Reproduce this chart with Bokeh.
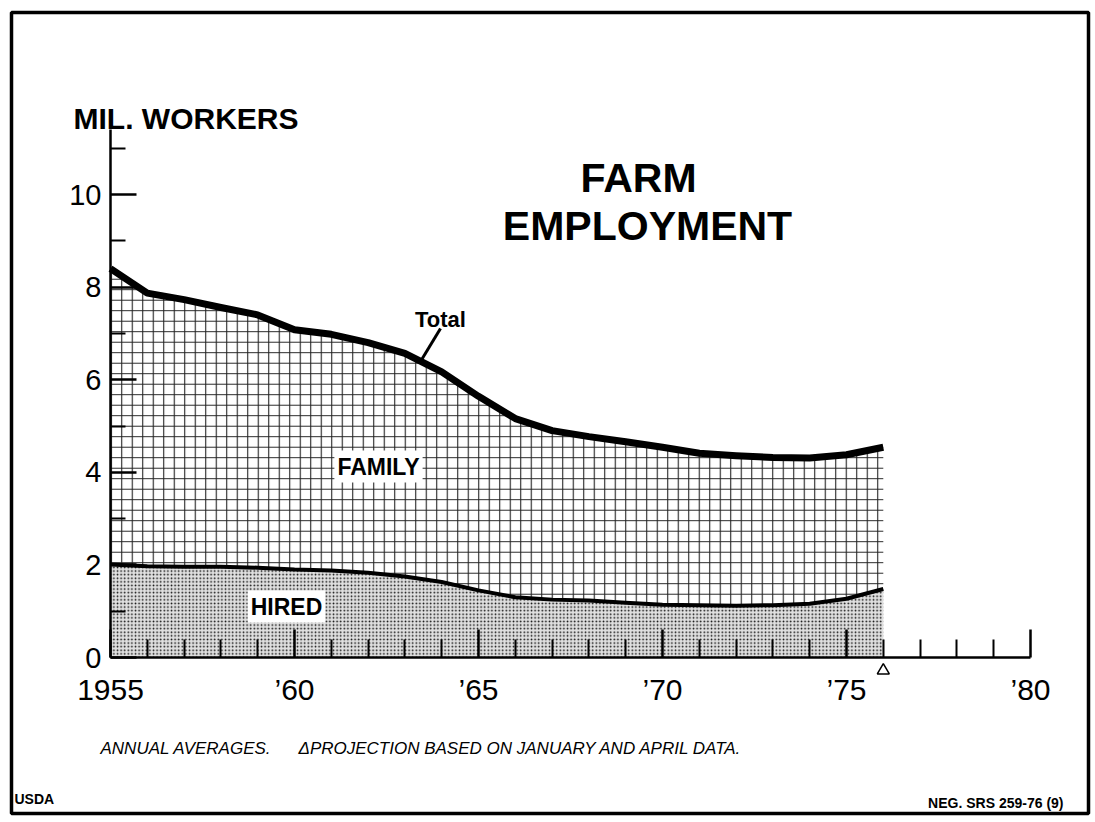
from bokeh.plotting import figure
from bokeh.models import Range1d, FixedTicker, Label, BoxAnnotation
from bokeh.embed import file_html
from bokeh.resources import INLINE

# ---------------- data ----------------
years = list(range(1955, 1977))
total = [8.40, 7.87, 7.73, 7.56, 7.40, 7.08, 6.98, 6.80, 6.57, 6.17, 5.64,
         5.16, 4.90, 4.77, 4.66, 4.54, 4.41, 4.36, 4.32, 4.31, 4.38, 4.54]
hired = [2.01, 1.97, 1.96, 1.96, 1.94, 1.90, 1.88, 1.83, 1.75, 1.63, 1.45,
         1.30, 1.25, 1.23, 1.18, 1.14, 1.13, 1.12, 1.13, 1.16, 1.27, 1.48]
x_major = [1955, 1960, 1965, 1970, 1975, 1980]
x_labels = ["1955", "\u201960", "\u201965", "\u201970", "\u201975", "\u201980"]
x_minor = [1956, 1957, 1958, 1959, 1961, 1962, 1963, 1964, 1966, 1967, 1968,
           1969, 1971, 1972, 1973, 1974, 1976, 1977, 1978, 1979]
y_major = [0, 2, 4, 6, 8, 10]
y_minor = [1, 3, 5, 7, 9, 11]
proj_year = [1976]

# ---------------- layout helpers ----------------
W, H = 1095, 822
OX, OY = 0, 0        # page position of the canvas
X0, SX = 110, 36.8   # pixel of 1955, pixels per year
Y0, SY = 657, 46.3   # pixel of 0, pixels per million


def X(px):
    return 1955 + (px - X0) / SX


def Y(py):
    return (Y0 - py) / SY


FONT = "Liberation Sans"

p = figure(width=W, height=H,
           x_range=Range1d(X(OX), X(OX + W)), y_range=Range1d(Y(OY + H), Y(OY)),
           output_backend="svg", toolbar_location=None, min_border=0,
           background_fill_color="white", border_fill_color="white")
p.outline_line_color = None
p.grid.visible = False

# ---------------- areas ----------------
p.varea(x=years, y1=0, y2=hired, fill_color="#e0e0e0",
        hatch_pattern="dot", hatch_scale=3.6, hatch_color="#111111",
        hatch_weight=1.0)
p.varea(x=years, y1=hired, y2=total, fill_color="white",
        hatch_pattern="+", hatch_scale=10.5, hatch_color="#222222",
        hatch_weight=1.1)
p.line(x=years, y=hired, line_color="black", line_width=4, line_join="round")
p.line(x=years, y=total, line_color="black", line_width=7, line_join="round")

# projection marker
p.scatter(x=proj_year, y=[Y(670)] * len(proj_year), marker="triangle",
          size=12, fill_color="white", line_color="black", line_width=1.5)

# ---------------- axes ----------------
xa = p.xaxis[0]
xa.fixed_location = 0
xa.bounds = (1955, 1980)
xa.ticker = FixedTicker(ticks=x_major, minor_ticks=x_minor)
xa.major_label_overrides = dict(zip(x_major, x_labels))
xa.axis_line_width = 2.5
xa.axis_line_color = "black"
xa.major_tick_in = 28
xa.major_tick_out = 0
xa.minor_tick_in = 18
xa.minor_tick_out = 0
xa.major_tick_line_width = 2.5
xa.minor_tick_line_width = 2
xa.major_tick_line_color = "black"
xa.minor_tick_line_color = "black"
xa.major_label_text_font = FONT
xa.major_label_text_font_size = "30px"
xa.major_label_text_color = "black"
xa.major_label_standoff = 15

ya = p.yaxis[0]
ya.fixed_location = 1955
ya.bounds = (0, 11.4)
ya.ticker = FixedTicker(ticks=y_major, minor_ticks=y_minor)
ya.axis_line_width = 2.5
ya.axis_line_color = "black"
ya.major_tick_in = 26
ya.major_tick_out = 0
ya.minor_tick_in = 15
ya.minor_tick_out = 0
ya.major_tick_line_width = 2.5
ya.minor_tick_line_width = 2
ya.major_tick_line_color = "black"
ya.minor_tick_line_color = "black"
ya.major_label_text_font = FONT
ya.major_label_text_font_size = "29px"
ya.major_label_text_color = "black"
ya.major_label_standoff = 9

# ---------------- texts ----------------
def lab(px, py, text, size, style="normal", align="left", baseline="alphabetic", **kw):
    p.add_layout(Label(x=X(px), y=Y(py), text=text, text_font=FONT,
                       text_font_size=f"{size}px", text_font_style=style,
                       text_align=align, text_baseline=baseline,
                       text_color="black", **kw))


lab(73, 118, "MIL. WORKERS", 30, "bold")
lab(638, 177, "FARM", 41, "bold", "center")
lab(647, 225, "EMPLOYMENT", 41, "bold", "center")
lab(440, 319, "Total", 22, "bold", "center")
lab(378, 466, "FAMILY", 23, "bold", "center", "middle",
    background_fill_color="white", padding=3)
lab(286, 606, "HIRED", 23, "bold", "center", "middle",
    background_fill_color="white", padding=3)
lab(100, 748, "ANNUAL AVERAGES.", 17, "italic")
lab(298, 748, "\u0394PROJECTION BASED ON JANUARY AND APRIL DATA.", 17, "italic")
lab(14, 798, "USDA", 14, "bold")
lab(1063, 802, "NEG. SRS 259-76 (9)", 14, "bold", "right")

# leader line for "Total"
p.segment(x0=[X(440)], y0=[Y(328)], x1=[X(420)], y1=[Y(361)],
          line_color="black", line_width=3)

# frame border
p.add_layout(BoxAnnotation(left=X(11), right=X(1088), top=Y(12), bottom=Y(813),
                           fill_alpha=0, line_color="black", line_alpha=1,
                           line_width=3.5, level="overlay"))

open("out.html", "w").write(file_html(p, INLINE))
